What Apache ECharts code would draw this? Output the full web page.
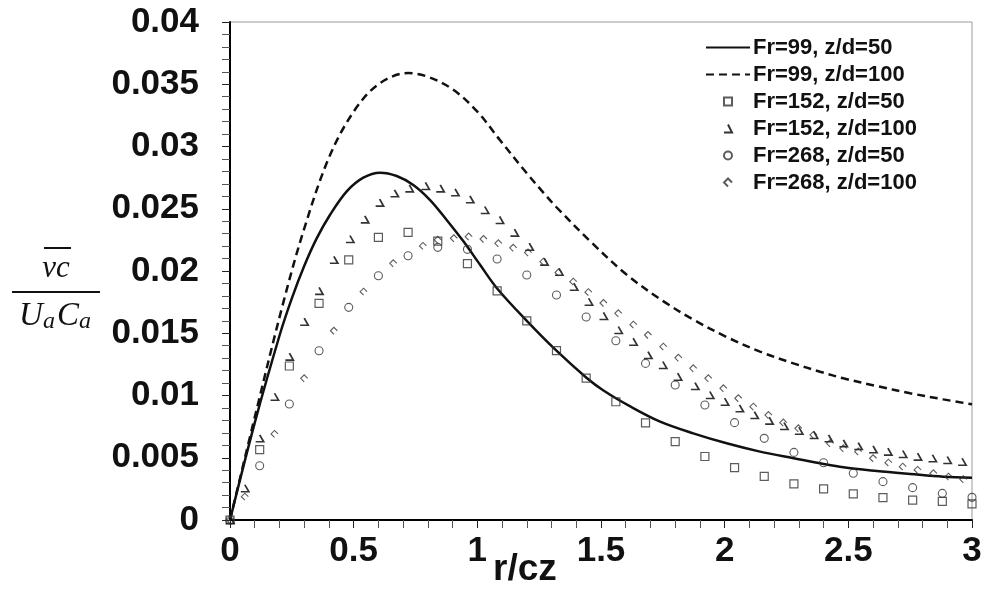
<!DOCTYPE html>
<html><head><meta charset="utf-8">
<script src="https://cdn.jsdelivr.net/npm/echarts@6/dist/echarts.min.js"></script>
<style>html,body{margin:0;padding:0;background:#fff}#c{width:985px;height:605px}</style>
</head><body><div id="c"></div>
<script>
// ---- data ----
const seriesNames = ['Fr=99, z/d=50', 'Fr=99, z/d=100', 'Fr=152, z/d=50', 'Fr=152, z/d=100', 'Fr=268, z/d=50', 'Fr=268, z/d=100'];

const fr99z50X = [0, 0.1, 0.2, 0.25, 0.3, 0.35, 0.404, 0.472, 0.539, 0.607, 0.674, 0.741, 0.809, 0.876, 0.943, 1.011, 1.08, 1.2, 1.32, 1.44, 1.51, 1.62, 1.739, 1.873, 2.008, 2.143, 2.278, 2.386, 2.48, 2.615, 2.75, 2.884, 3.0];
const fr99z50Y = [0, 0.0078, 0.0148, 0.0178, 0.0204, 0.0226, 0.0245, 0.0264, 0.0275, 0.0279, 0.02763, 0.02691, 0.0257, 0.0241, 0.0224, 0.0205, 0.0186, 0.0160, 0.0136, 0.01145, 0.0104, 0.0091, 0.0079, 0.00696, 0.00616, 0.00549, 0.00496, 0.00455, 0.00423, 0.00394, 0.0037, 0.00348, 0.0034];

const fr99z100X = [0, 0.108, 0.216, 0.3, 0.4, 0.5, 0.6, 0.72, 0.8, 0.9, 1.0, 1.092, 1.2, 1.267, 1.321, 1.456, 1.604, 1.75, 1.873, 2.008, 2.143, 2.278, 2.386, 2.48, 2.615, 2.75, 2.884, 3.0];
const fr99z100Y = [0, 0.0089, 0.0175, 0.0234, 0.0291, 0.0328, 0.0350, 0.0359, 0.0356, 0.0346, 0.0328, 0.0305, 0.02785, 0.0263, 0.0251, 0.0224, 0.0197, 0.0176, 0.0161, 0.0147, 0.01352, 0.01258, 0.01191, 0.01138, 0.01076, 0.01018, 0.00969, 0.00929];

const fr152z50X = [0, 0.12, 0.24, 0.36, 0.48, 0.6, 0.72, 0.84, 0.96, 1.08, 1.2, 1.32, 1.44, 1.56, 1.68, 1.8, 1.92, 2.04, 2.16, 2.28, 2.4, 2.52, 2.64, 2.76, 2.88, 3.0];
const fr152z50Y = [0, 0.00565, 0.01237, 0.0174, 0.0209, 0.0227, 0.0231, 0.0224, 0.0206, 0.0184, 0.0160, 0.0136, 0.0114, 0.0095, 0.0078, 0.0063, 0.0051, 0.0042, 0.0035, 0.0029, 0.0025, 0.0021, 0.0018, 0.0016, 0.0015, 0.0013];

const fr152z100X = [0, 0.06, 0.12, 0.18, 0.24, 0.30, 0.36, 0.42, 0.485, 0.545, 0.605, 0.665, 0.725, 0.79, 0.85, 0.91, 0.97, 1.03, 1.09, 1.15, 1.21, 1.27, 1.33, 1.39, 1.45, 1.51, 1.57, 1.63, 1.69, 1.75, 1.81, 1.88, 1.94, 2.0, 2.06, 2.12, 2.18, 2.24, 2.3, 2.36, 2.42, 2.48, 2.54, 2.6, 2.66, 2.72, 2.78, 2.84, 2.9, 2.96];
const fr152z100Y = [0, 0.00255, 0.00656, 0.0099, 0.01312, 0.01593, 0.0184, 0.0209, 0.02257, 0.02415, 0.02549, 0.02624, 0.02664, 0.02683, 0.02664, 0.02632, 0.02576, 0.0249, 0.0241, 0.02308, 0.02195, 0.02075, 0.01994, 0.01874, 0.01753, 0.01639, 0.01526, 0.01432, 0.01325, 0.01245, 0.01151, 0.01076, 0.01004, 0.0095, 0.00897, 0.00843, 0.00798, 0.00755, 0.00717, 0.00683, 0.00656, 0.00616, 0.00594, 0.00568, 0.00549, 0.0053, 0.00509, 0.00496, 0.00482, 0.00468];

const fr268z50X = [0, 0.12, 0.24, 0.36, 0.48, 0.6, 0.72, 0.84, 0.96, 1.08, 1.2, 1.32, 1.44, 1.56, 1.68, 1.8, 1.92, 2.04, 2.16, 2.28, 2.4, 2.52, 2.64, 2.76, 2.88, 3.0];
const fr268z50Y = [0, 0.00436, 0.00932, 0.0136, 0.01708, 0.01962, 0.02123, 0.0219, 0.02174, 0.02096, 0.01968, 0.01807, 0.0163, 0.0144, 0.01258, 0.01084, 0.00924, 0.00782, 0.00656, 0.00543, 0.0046, 0.00375, 0.00308, 0.0026, 0.00214, 0.00182];

const fr268z100X = [0, 0.06, 0.18, 0.30, 0.42, 0.54, 0.66, 0.78, 0.84, 0.905, 0.965, 1.025, 1.085, 1.145, 1.205, 1.267, 1.328, 1.388, 1.449, 1.51, 1.57, 1.631, 1.69, 1.752, 1.813, 1.873, 1.934, 1.995, 2.055, 2.116, 2.177, 2.237, 2.298, 2.359, 2.426, 2.48, 2.54, 2.60, 2.662, 2.72, 2.78, 2.844, 2.905, 2.965];
const fr268z100Y = [0, 0.00187, 0.00691, 0.01138, 0.0152, 0.01834, 0.02062, 0.02201, 0.0225, 0.02263, 0.02276, 0.02257, 0.02222, 0.02186, 0.02148, 0.02075, 0.01988, 0.01914, 0.0183, 0.01743, 0.0166, 0.01569, 0.01486, 0.01392, 0.01303, 0.01218, 0.01138, 0.01058, 0.00978, 0.0091, 0.00843, 0.00782, 0.00736, 0.00683, 0.00616, 0.00576, 0.00549, 0.00496, 0.0046, 0.00428, 0.00402, 0.00375, 0.00348, 0.00327];

const xAxisTitle = 'r/cz';

// ---- chart ----
const pairs = (xs, ys) => xs.map((x, i) => [x, ys[i]]);
const FONT = '"Liberation Sans", Arial, sans-serif';
const SERIF = '"Liberation Serif", serif';

const SYM_SQUARE = 'path://M0 0 L10 0 L10 10 L0 10 Z';
const SYM_TRI = 'path://M5 0 L10 10 L0 10';
const SYM_CIRCLE = 'path://M10 5 A5 5 0 1 1 0 5 A5 5 0 1 1 10 5 Z';
const SYM_HALFDIAMOND = 'path://M10 5 L5 0 L0 5 L5 10';

const chart = echarts.init(document.getElementById('c'), null, {renderer: 'canvas'});
const clear = 'rgba(0,0,0,0)';

const option = {
  animation: false,
  backgroundColor: '#fff',
  grid: {left: 230, right: 13, top: 22, bottom: 85, show: true, borderColor: '#9a9a9a', borderWidth: 1, backgroundColor: 'transparent'},
  xAxis: {
    type: 'value', min: 0, max: 3, interval: 0.5,
    axisLine: {lineStyle: {color: '#000', width: 2}},
    axisTick: {show: true, inside: false, length: 8, lineStyle: {color: '#222', width: 1}},
    minorTick: {show: true, splitNumber: 5, length: 8, lineStyle: {color: '#555', width: 1}},
    splitLine: {show: false},
    axisLabel: {fontSize: 35, fontWeight: 'bold', color: '#111', fontFamily: FONT, margin: 14}
  },
  yAxis: {
    type: 'value', min: 0, max: 0.04, interval: 0.005,
    axisLine: {show: true, lineStyle: {color: '#000', width: 2}},
    axisTick: {show: true, inside: false, length: 8, lineStyle: {color: '#222', width: 1}},
    minorTick: {show: true, splitNumber: 5, length: 8, lineStyle: {color: '#555', width: 1}},
    splitLine: {show: false},
    axisLabel: {fontSize: 35, fontWeight: 'bold', color: '#111', fontFamily: FONT, margin: 31}
  },
  legend: {
    orient: 'vertical', left: 700, top: 29, itemWidth: 44, itemHeight: 8, itemGap: 0,
    selectedMode: false,
    textStyle: {fontSize: 22, fontWeight: 'bold', color: '#111', fontFamily: FONT, lineHeight: 27, padding: [0, 0, 0, -2]},
    data: [
      {name: seriesNames[0], itemStyle: {opacity: 0}},
      {name: seriesNames[1], itemStyle: {opacity: 0}},
      {name: seriesNames[2], icon: SYM_SQUARE},
      {name: seriesNames[3], icon: SYM_TRI},
      {name: seriesNames[4], icon: SYM_CIRCLE},
      {name: seriesNames[5], icon: SYM_HALFDIAMOND}
    ]
  },
  graphic: [
    {type: 'text', left: 493, top: 551, style: {text: xAxisTitle, fontSize: 37, fontWeight: 'bold', fill: '#111', fontFamily: FONT}},
    {type: 'text', x: 56, y: 269, style: {text: 'vc', fontSize: 31, fontStyle: 'italic', fill: '#111', fontFamily: SERIF, align: 'center', verticalAlign: 'middle'}},
    {type: 'line', shape: {x1: 44, y1: 248, x2: 71, y2: 248}, style: {stroke: '#111', lineWidth: 2}},
    {type: 'line', shape: {x1: 12, y1: 292, x2: 100, y2: 292}, style: {stroke: '#111', lineWidth: 2}},
    {type: 'text', x: 56, y: 316, style: {
      text: '{m|U}{s|a}{m|C}{s|a}', align: 'center', verticalAlign: 'middle',
      rich: {
        m: {fontSize: 33, fontStyle: 'italic', fill: '#111', fontFamily: SERIF},
        s: {fontSize: 24, fontStyle: 'italic', fill: '#111', fontFamily: SERIF, padding: [12, 2, 0, 0]}
      }
    }}
  ],
  series: [
    {name: seriesNames[0], type: 'line', data: pairs(fr99z50X, fr99z50Y), smooth: 0.35, symbol: 'none', showSymbol: false,
     lineStyle: {color: '#111', width: 2.5}, itemStyle: {color: '#111'}, z: 3},
    {name: seriesNames[1], type: 'line', data: pairs(fr99z100X, fr99z100Y), smooth: 0.35, symbol: 'none', showSymbol: false,
     lineStyle: {color: '#111', width: 2.5, type: [8, 5]}, itemStyle: {color: '#111'}, z: 3},
    {name: seriesNames[2], type: 'scatter', data: pairs(fr152z50X, fr152z50Y), symbol: SYM_SQUARE, symbolSize: 8,
     itemStyle: {color: clear, borderColor: '#333', borderWidth: 1.2}, z: 4},
    {name: seriesNames[3], type: 'scatter', data: pairs(fr152z100X, fr152z100Y), symbol: SYM_TRI, symbolSize: [8, 7],
     itemStyle: {color: clear, borderColor: '#000', borderWidth: 1.7}, z: 4},
    {name: seriesNames[4], type: 'scatter', data: pairs(fr268z50X, fr268z50Y), symbol: SYM_CIRCLE, symbolSize: 8,
     itemStyle: {color: clear, borderColor: '#333', borderWidth: 1.1}, z: 4},
    {name: seriesNames[5], type: 'scatter', data: pairs(fr268z100X, fr268z100Y), symbol: SYM_HALFDIAMOND, symbolSize: 7,
     itemStyle: {color: clear, borderColor: '#333', borderWidth: 1.1}, z: 4}
  ]
};
chart.setOption(option);
</script>
</body></html>
